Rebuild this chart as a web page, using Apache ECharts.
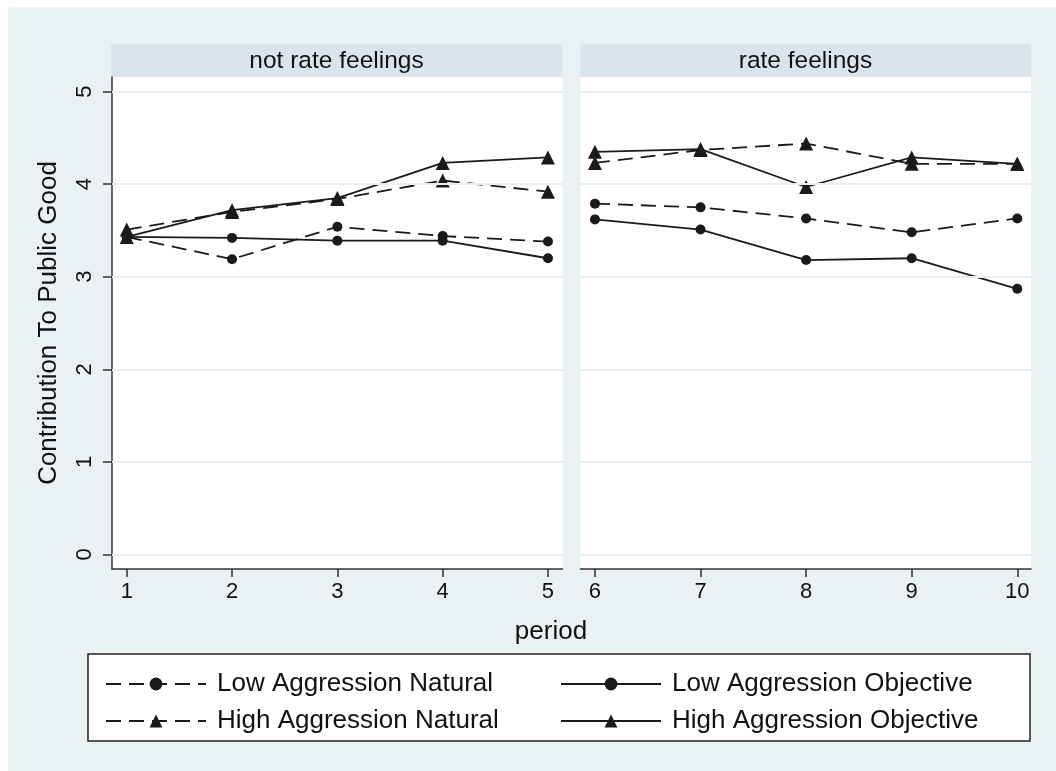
<!DOCTYPE html>
<html>
<head>
<meta charset="utf-8">
<script src="https://cdn.jsdelivr.net/npm/echarts@6/dist/echarts.min.js"></script>
<style>
html,body{margin:0;padding:0;background:#ffffff;}
#chart{width:1056px;height:771px;}
</style>
</head>
<body>
<div id="chart"></div>
<script>
// ---- data ----
const periodsLeft = [1, 2, 3, 4, 5];
const periodsRight = [6, 7, 8, 9, 10];
const panelTitles = ['not rate feelings', 'rate feelings'];
const seriesNames = ['Low Aggression Natural', 'High Aggression Natural', 'Low Aggression Objective', 'High Aggression Objective'];
const lowNatural    = [3.43, 3.19, 3.54, 3.44, 3.38, 3.79, 3.75, 3.63, 3.48, 3.63];
const highNatural   = [3.51, 3.70, 3.84, 4.04, 3.92, 4.23, 4.37, 4.44, 4.22, 4.22];
const lowObjective  = [3.43, 3.42, 3.39, 3.39, 3.20, 3.62, 3.51, 3.18, 3.20, 2.87];
const highObjective = [3.43, 3.72, 3.85, 4.23, 4.29, 4.35, 4.38, 3.97, 4.29, 4.22];
const yTicks = [0, 1, 2, 3, 4, 5];
const xTitle = 'period';
const yTitle = 'Contribution To Public Good';

// ---- styles ----
const FONT = '"Liberation Sans", Arial, Helvetica, sans-serif';
const INK = '#1a1a1a';
const BG = '#EAF1F3';
const STRIP = '#D9E5EB';
const GRID = '#E6EEF2';
const DASH = [15, 8];

const allPeriods = periodsLeft.concat(periodsRight);
function pairs(vals, idx) {
  const xs = idx === 0 ? periodsLeft : periodsRight;
  return xs.map(p => [p, vals[allPeriods.indexOf(p)]]);
}
const valueSets = [lowNatural, highNatural, lowObjective, highObjective];
const dashed = [true, true, false, false];
const symbols = ['circle', 'triangle', 'circle', 'triangle'];

const series = [];
[0, 1].forEach(panel => {
  // gridlines
  series.push({
    type: 'line', xAxisIndex: panel, yAxisIndex: panel, data: [], silent: true, z: 1,
    markLine: {
      silent: true, symbol: 'none', label: {show: false},
      lineStyle: {color: GRID, width: 2, type: 'solid'},
      data: yTicks.map(v => ({yAxis: v}))
    }
  });
  seriesNames.forEach((name, i) => {
    series.push({
      name: name, type: 'line', xAxisIndex: panel, yAxisIndex: panel, z: 3,
      data: pairs(valueSets[i], panel),
      symbol: symbols[i], symbolSize: symbols[i] === 'circle' ? 10 : 14,
      itemStyle: {color: INK},
      lineStyle: {color: INK, width: 1.8, type: dashed[i] ? DASH : 'solid'},
      animation: false
    });
  });
});

const chart = echarts.init(document.getElementById('chart'), null, {renderer: 'canvas'});
const axisLineStyle = {color: '#333', width: 1.5};
chart.setOption({
  animation: false,
  textStyle: {fontFamily: FONT},
  grid: [
    {left: 112, top: 77, width: 450.5, height: 492, show: true, backgroundColor: '#ffffff', borderWidth: 0},
    {left: 580.5, top: 77, width: 450.5, height: 492, show: true, backgroundColor: '#ffffff', borderWidth: 0}
  ],
  xAxis: [
    {gridIndex: 0, type: 'value', min: 0.860, max: 5.138,
     axisLine: {onZero: false, lineStyle: axisLineStyle}, splitLine: {show: false},
     axisTick: {length: 8, lineStyle: axisLineStyle, customValues: periodsLeft},
     axisLabel: {customValues: periodsLeft, fontSize: 22, color: '#111', margin: 12, fontFamily: FONT}},
    {gridIndex: 1, type: 'value', min: 5.863, max: 10.130,
     axisLine: {onZero: false, lineStyle: axisLineStyle}, splitLine: {show: false},
     axisTick: {length: 8, lineStyle: axisLineStyle, customValues: periodsRight},
     axisLabel: {customValues: periodsRight, fontSize: 22, color: '#111', margin: 12, fontFamily: FONT}}
  ],
  yAxis: [
    {gridIndex: 0, type: 'value', min: -0.159, max: 5.159,
     axisLine: {show: true, onZero: false, lineStyle: axisLineStyle}, splitLine: {show: false},
     axisTick: {show: true, length: 9, lineStyle: axisLineStyle, customValues: yTicks},
     axisLabel: {customValues: yTicks, fontSize: 22, color: '#111', rotate: 90, margin: 16, fontFamily: FONT},
     name: yTitle, nameLocation: 'middle', nameGap: 50,
     nameTextStyle: {fontSize: 26, color: '#111', fontFamily: FONT}},
    {gridIndex: 1, type: 'value', min: -0.159, max: 5.159, show: false}
  ],
  legend: [
    {orient: 'vertical', left: 100, top: 666, itemWidth: 100, itemHeight: 16, itemGap: 11,
     data: [seriesNames[0], seriesNames[1]], selectedMode: false,
     textStyle: {fontSize: 26, lineHeight: 26, color: '#111', fontFamily: FONT, padding: [0, 0, 0, 6]}},
    {orient: 'vertical', left: 555, top: 666, itemWidth: 100, itemHeight: 16, itemGap: 11,
     data: [seriesNames[2], seriesNames[3]], selectedMode: false,
     textStyle: {fontSize: 26, lineHeight: 26, color: '#111', fontFamily: FONT, padding: [0, 0, 0, 6]}}
  ],
  graphic: [
    {type: 'rect', z: -10, silent: true, shape: {x: 8, y: 7, width: 1048, height: 764}, style: {fill: BG}},
    {type: 'rect', z: -5, silent: true, shape: {x: 111, y: 44, width: 451.5, height: 33}, style: {fill: STRIP}},
    {type: 'rect', z: -5, silent: true, shape: {x: 580.5, y: 44, width: 450.5, height: 33}, style: {fill: STRIP}},
    {type: 'text', z: 5, silent: true, x: 336.5, y: 61, style: {text: panelTitles[0], fontSize: 24.5, fontFamily: FONT, fill: '#111', align: 'center', verticalAlign: 'middle'}},
    {type: 'text', z: 5, silent: true, x: 805.5, y: 61, style: {text: panelTitles[1], fontSize: 24.5, fontFamily: FONT, fill: '#111', align: 'center', verticalAlign: 'middle'}},
    {type: 'text', z: 5, silent: true, x: 551, y: 632, style: {text: xTitle, fontSize: 26, fontFamily: FONT, fill: '#111', align: 'center', verticalAlign: 'middle'}},
    {type: 'rect', z: -4, silent: true, shape: {x: 88, y: 654, width: 942, height: 87}, style: {fill: '#ffffff', stroke: '#222', lineWidth: 1.5}}
  ],
  series: series
});
</script>
</body>
</html>
